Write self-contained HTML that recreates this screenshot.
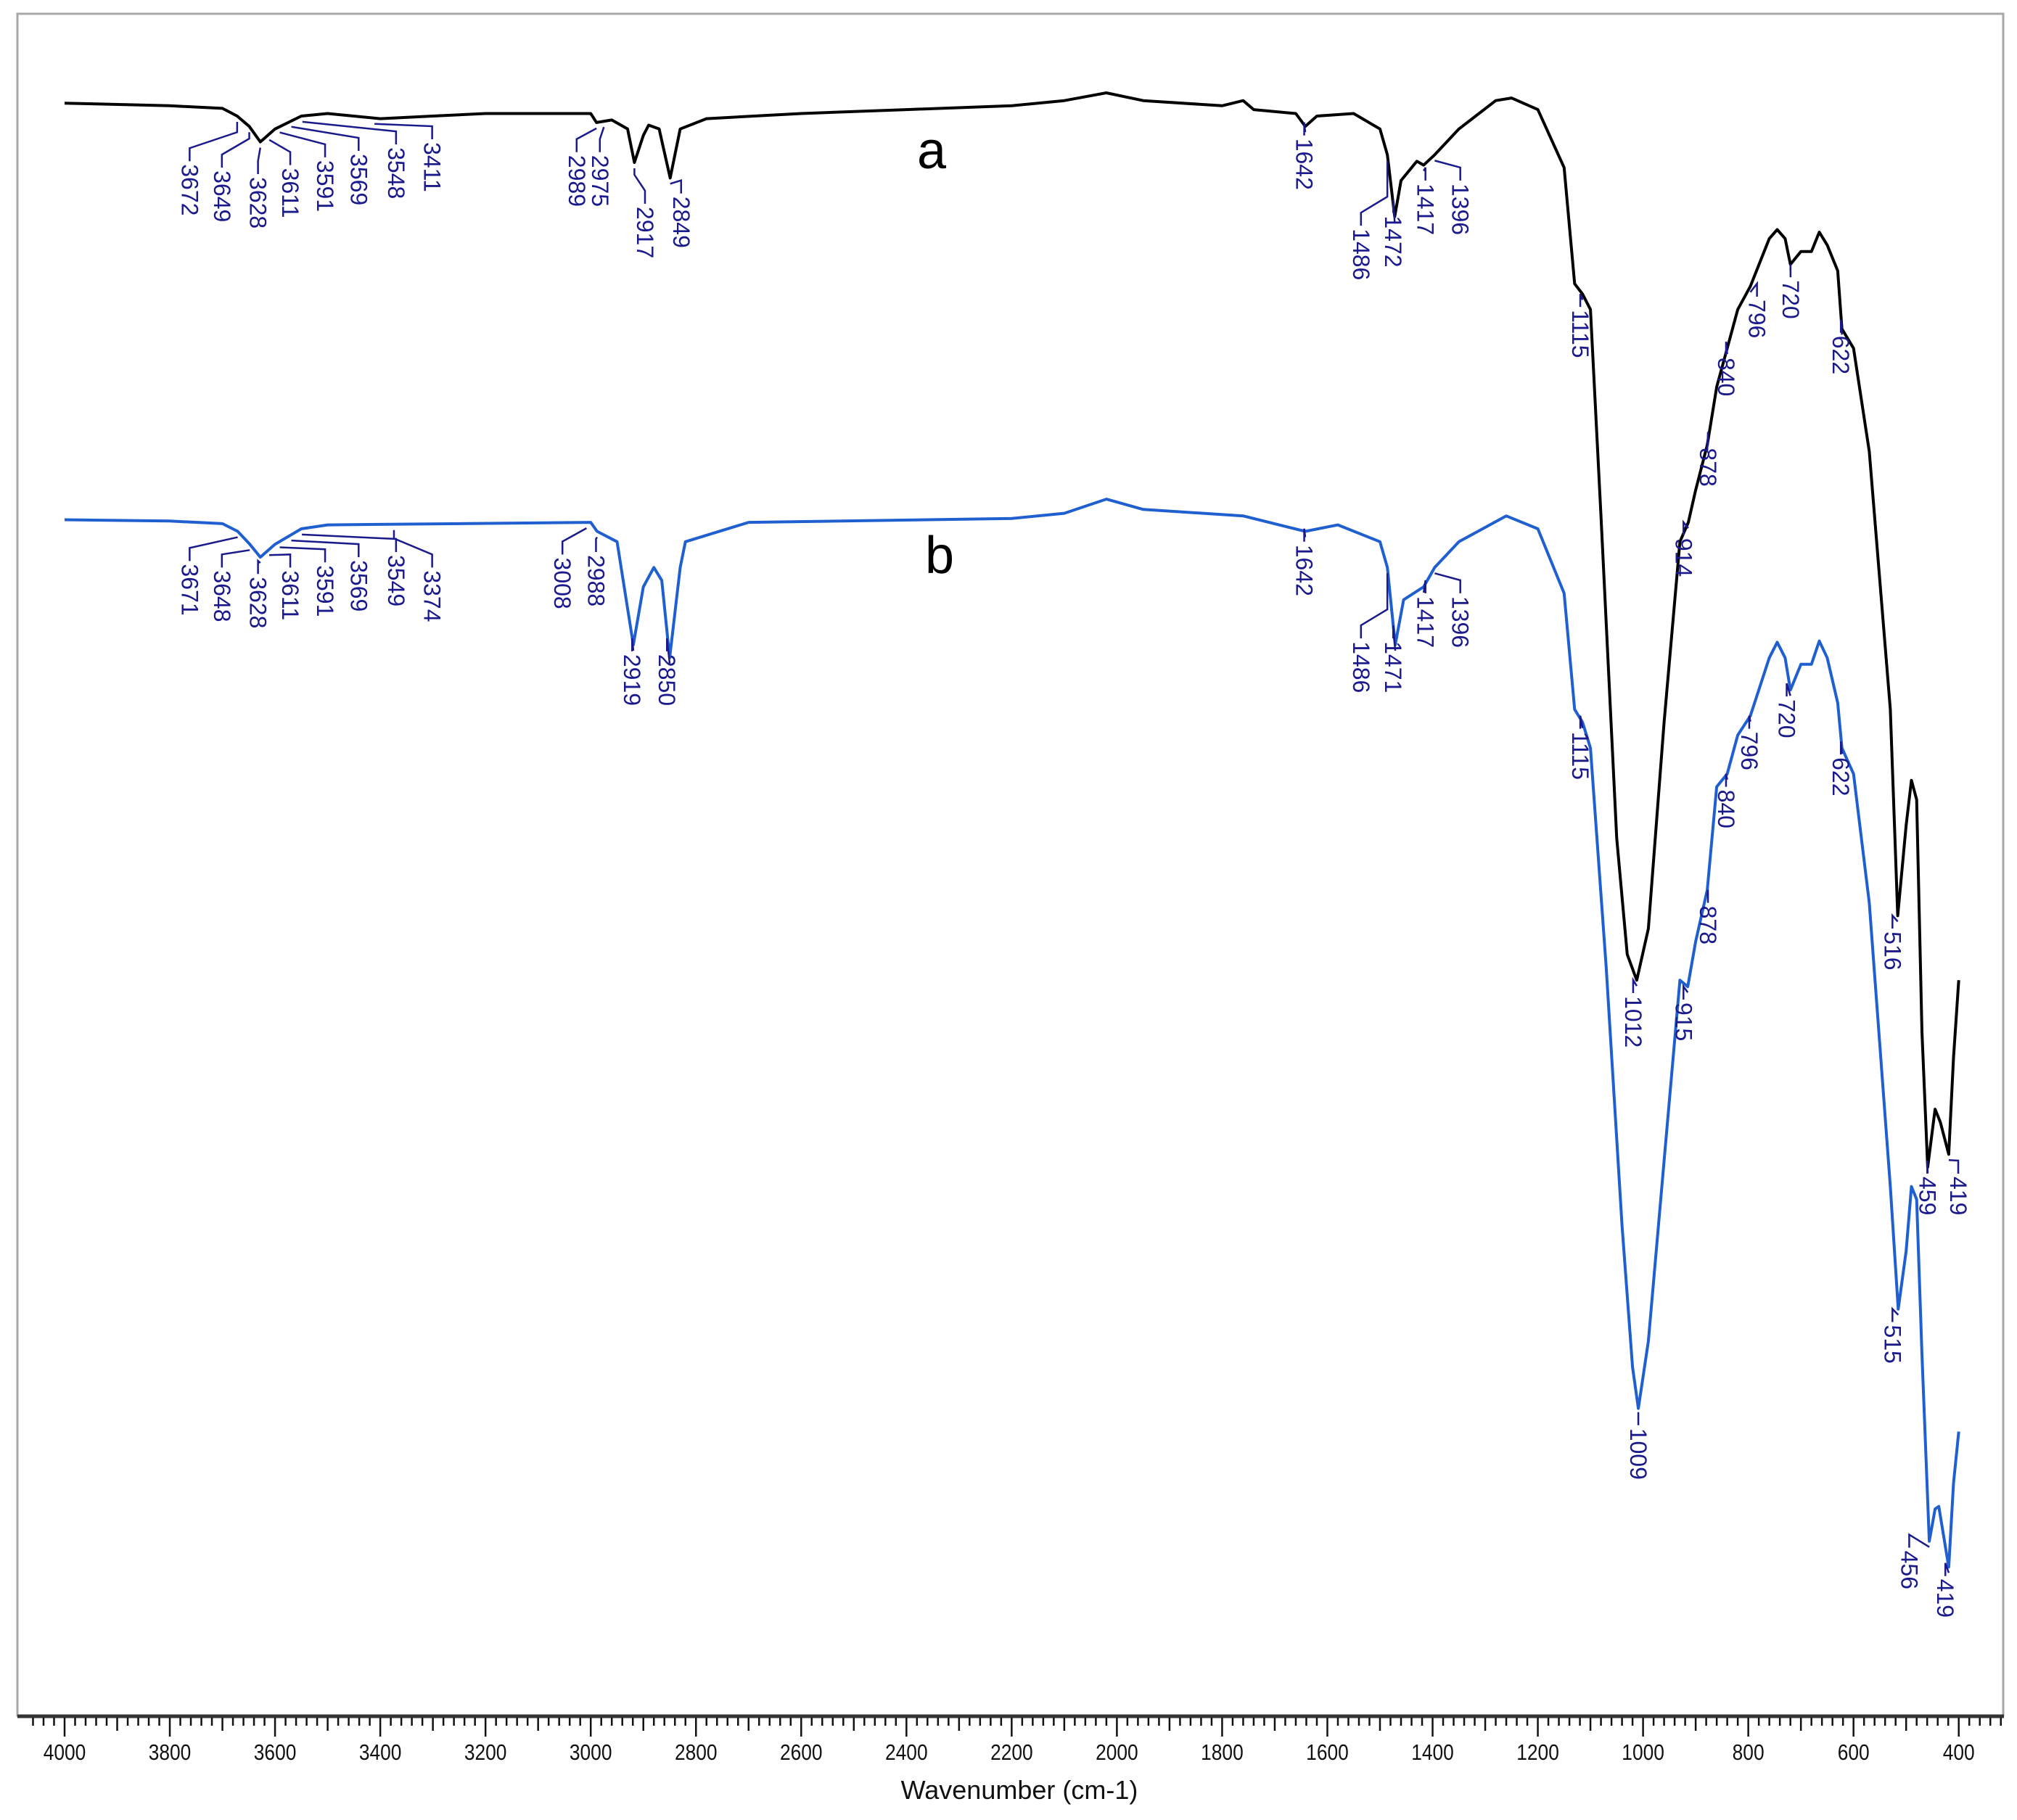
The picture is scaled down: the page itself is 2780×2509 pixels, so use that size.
<!DOCTYPE html>
<html><head><meta charset="utf-8"><style>
html,body{margin:0;padding:0;background:#fff;}
svg{display:block;}
</style></head><body>
<svg id="chart" width="2780" height="2509" viewBox="0 0 2780 2509" xmlns="http://www.w3.org/2000/svg">
<rect x="24" y="19" width="2737" height="2346" fill="none" stroke="#a8a8a8" stroke-width="3"/>
<line x1="24" y1="2366" x2="2762" y2="2366" stroke="#333" stroke-width="5"/>
<g id="ticks"></g>
<g id="curves"></g>
<g id="labels"></g>
<text x="1284" y="232" font-family="Liberation Sans, sans-serif" font-size="72" fill="#000" text-anchor="middle">a</text>
<text x="1295" y="790" font-family="Liberation Sans, sans-serif" font-size="72" fill="#000" text-anchor="middle">b</text>
<text x="1405" y="2480" font-family="Liberation Sans, sans-serif" font-size="36" fill="#111" text-anchor="middle">Wavenumber (cm-1)</text>
</svg>
<script>
// Data (wavenumber, relative position units)
const waveA = [4000,3800,3700,3672,3649,3628,3600,3550,3500,3400,3300,3200,3000,2989,2960,2930,2917,2900,2890,2870,2849,2830,2780,2600,2400,2200,2100,2020,1950,1800,1760,1740,1660,1642,1620,1550,1500,1486,1472,1460,1430,1417,1396,1350,1280,1250,1200,1150,1130,1115,1100,1080,1050,1030,1012,990,960,930,914,900,878,860,840,820,796,760,745,730,720,700,680,665,650,630,622,600,570,530,516,500,490,480,470,459,445,435,419,410,400];
const valA  = [80,82,84,90,98,110,100,90,88,92,90,88,88,95,93,100,126,105,97,100,138,100,92,88,85,82,78,72,78,82,78,85,88,98,90,88,100,120,168,140,125,128,120,100,78,76,85,130,220,228,240,400,650,740,760,720,560,420,405,380,345,300,270,240,222,185,178,185,205,195,195,180,190,210,255,270,350,550,710,640,605,620,800,905,860,870,895,820,760];
const waveB = [4000,3800,3700,3671,3648,3628,3600,3550,3500,3000,2988,2950,2919,2900,2880,2865,2850,2830,2820,2700,2200,2100,2020,1950,1760,1642,1580,1500,1486,1471,1455,1417,1396,1350,1260,1200,1150,1130,1115,1100,1070,1040,1020,1009,990,960,930,915,900,878,860,840,820,796,760,745,730,720,700,680,665,650,630,622,600,570,530,515,500,490,480,470,456,445,438,419,410,400];
const valB  = [403,404,406,412,422,432,422,410,407,405,412,420,500,455,440,450,510,440,420,405,402,398,387,395,400,412,407,420,440,500,465,455,440,420,400,410,460,550,560,580,750,950,1060,1092,1040,900,760,765,730,690,610,600,570,555,510,498,510,535,515,515,497,510,545,580,600,700,920,1015,970,920,930,1050,1195,1170,1168,1215,1150,1110];
const labelsA = [[3672,"3672",147,125],[3649,"3649",172,130],[3628,"3628",200,135],[3611,"3611",225,128],[3591,"3591",252,122],[3569,"3569",278,117],[3548,"3548",307,112],[3411,"3411",335,108],[2989,"2989",447,118],[2975,"2975",465,118],[2917,"2917",500,158],[2849,"2849",528,150],[1642,"1642",1011,105],[1486,"1486",1055,175],[1472,"1472",1080,165],[1417,"1417",1105,140],[1396,"1396",1132,140],[1115,"1115",1225,238],[1012,"1012",1266,770],[914,"914",1305,415],[878,"878",1324,345],[840,"840",1338,275],[796,"796",1362,230],[720,"720",1388,215],[622,"622",1427,258],[516,"516",1467,720],[459,"459",1494,910],[419,"419",1518,910]];
const labelsB = [[3671,"3671",147,435],[3648,"3648",172,440],[3628,"3628",200,445],[3611,"3611",225,440],[3591,"3591",252,436],[3569,"3569",278,432],[3549,"3549",307,428],[3374,"3374",335,440],[3008,"3008",436,430],[2988,"2988",462,428],[2919,"2919",490,505],[2850,"2850",517,505],[1642,"1642",1011,420],[1486,"1486",1055,495],[1471,"1471",1080,495],[1417,"1417",1105,460],[1396,"1396",1132,460],[1115,"1115",1225,565],[1009,"1009",1270,1105],[915,"915",1305,775],[878,"878",1324,700],[840,"840",1338,610],[796,"796",1356,565],[720,"720",1385,540],[622,"622",1427,585],[515,"515",1467,1025],[456,"456",1480,1200],[419,"419",1508,1222]];
const tickLabels = [4000,3800,3600,3400,3200,3000,2800,2600,2400,2200,2000,1800,1600,1400,1200,1000,800,600,400];

const NS="http://www.w3.org/2000/svg";
function xs(w){return 89+(4000-w)*0.7252;}
function ys(v){return v*1.778;}
function mk(tag,attrs,parent){const e=document.createElementNS(NS,tag);for(const k in attrs)e.setAttribute(k,attrs[k]);parent.appendChild(e);return e;}

const tg=document.getElementById('ticks');
for(let w=4060; w>=320; w-=20){
  const len = (w%200===0)?26:(w%100===0)?18:11;
  const t=mk('line',{x1:xs(w),x2:xs(w),y1:2368,y2:2368+len,stroke:'#111','stroke-width':2.5},tg);
  
  
}
tickLabels.forEach(w=>{
  const t=mk('text',{x:xs(w),y:2426,'font-family':'Liberation Sans, sans-serif','font-size':31,'text-anchor':'middle',fill:'#111',transform:`translate(${xs(w)},2426) scale(0.85,1) translate(${-xs(w)},-2426)`},tg);
  t.textContent=w;
  
  
});

const cg=document.getElementById('curves');
function drawCurve(ws,vs,color,name){
  const d=ws.map((w,i)=>(i?'L':'M')+xs(w).toFixed(1)+','+ys(vs[i]).toFixed(1)).join(' ');
  const p=mk('path',{d:d,fill:'none',stroke:color,'stroke-width':4,'stroke-linejoin':'round'},cg);
  
  
}
drawCurve(waveA,valA,'#000','spectrum-a');
drawCurve(waveB,valB,'#1f5fcf','spectrum-b');

const lg=document.getElementById('labels');
function interp(ws,vs,w){for(let i=0;i<ws.length-1;i++){if(w<=ws[i]&&w>=ws[i+1]){const f=(ws[i]-w)/(ws[i]-ws[i+1]||1);return vs[i]+f*(vs[i+1]-vs[i]);}}return vs[vs.length-1];}
function drawLabels(list,ws,vs,name){
  list.forEach(([w,txt,ox,oy])=>{
    const px=xs(w), py=ys(interp(ws,vs,w))+8, lx=ox*1.778, ly=oy*1.778;
    const l=mk('polyline',{points:`${px},${py} ${px},${Math.max(py,ly-40)} ${lx},${ly-18} ${lx},${ly}`,fill:'none',stroke:'#1a1a8c','stroke-width':2.5},lg);
    
    
    const t=mk('text',{x:0,y:0,'font-family':'Liberation Sans, sans-serif','font-size':32,fill:'#1a1a8c',transform:`translate(${lx-11},${ly+4}) rotate(90)`},lg);
    t.textContent=txt;
    
    
  });
}
drawLabels(labelsA,waveA,valA,'peak-a');
drawLabels(labelsB,waveB,valB,'peak-b');
</script>
</body></html>
